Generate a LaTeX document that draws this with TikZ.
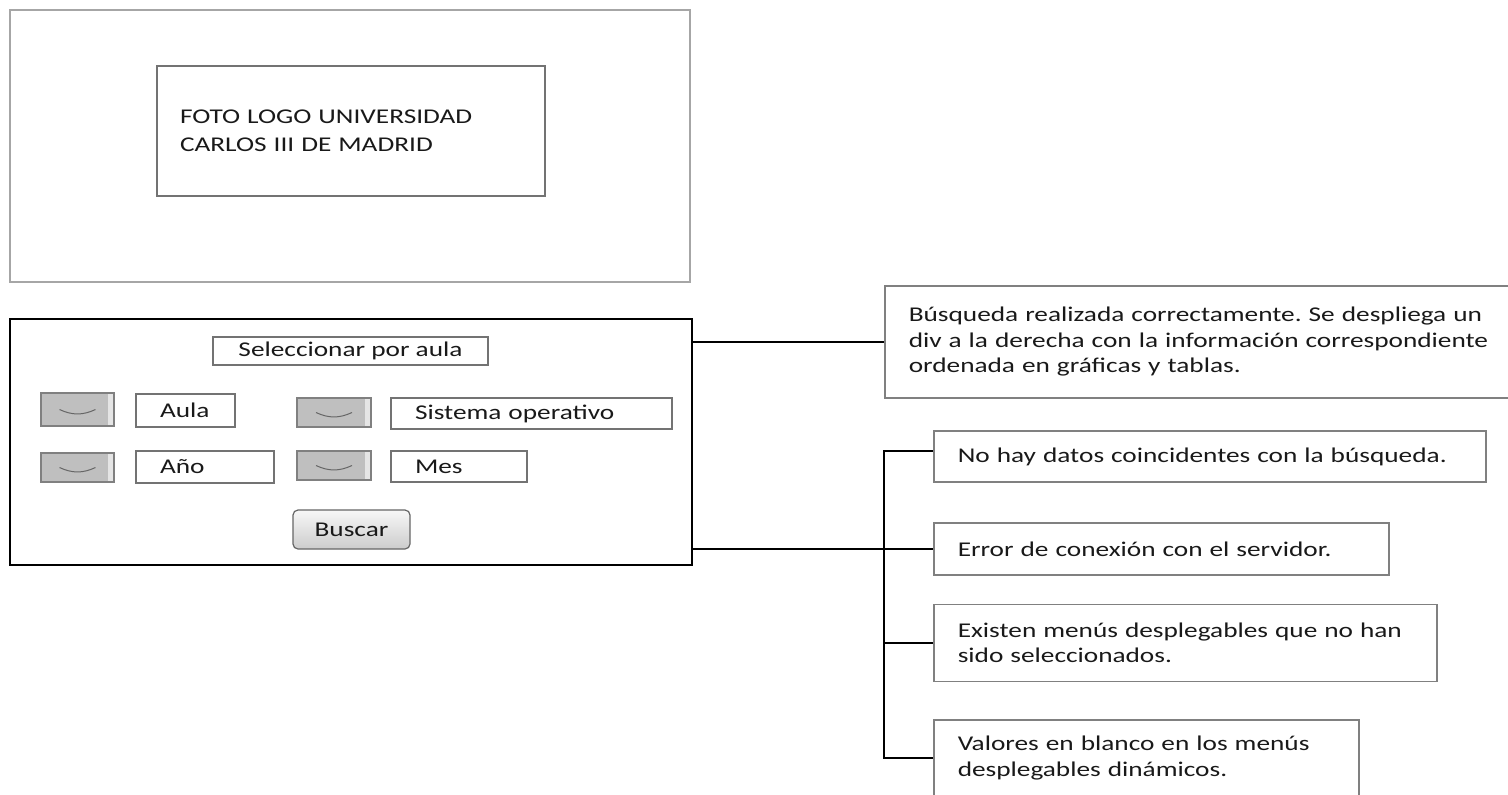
\documentclass[tikz,border=0pt]{standalone}
\usepackage{fontspec}
\setmainfont{Carlito}[FakeStretch=1.3]
\frenchspacing

\begin{document}
\begin{tikzpicture}[x=0.5pt,y=-0.5pt,
	font=\fontsize{10.5}{12.75}\selectfont, text=black!90,
	caja/.style={draw=black!50,line width=0.75pt,inner xsep=12pt,inner ysep=0pt,align=left,anchor=west},
	campo/.style={draw=black!55,line width=0.6pt,inner xsep=12pt,inner ysep=0pt,align=left},
	desp/.style={draw=black!50,fill=black!25,line width=0.6pt,inner sep=0pt,
		path picture={
			\fill[black!10] ([xshift=-3pt]path picture bounding box.north east) rectangle (path picture bounding box.south east);
			\draw[black!60,line width=0.5pt] ([xshift=-9pt]path picture bounding box.center) to[bend right=25] ([xshift=9pt]path picture bounding box.center);
		}},
	boton/.style={draw=black!60,line width=0.6pt,rounded corners=2.5pt,top color=black!3,bottom color=black!20,inner sep=0pt},
	linea/.style={draw,line width=0.8pt},
]
\clip (0,0) rectangle (1508,794);

\node[draw=black!35,line width=0.75pt,minimum width=340pt,minimum height=136pt] (cabecera) at (350,146) {};
\node[draw=black!55,line width=0.75pt,text width=171pt,inner xsep=11.5pt,minimum height=65pt,align=left,font=\fontsize{10.5}{14}\selectfont] (logo) at (351,131) {FOTO LOGO UNIVERSIDAD\\CARLOS III DE MADRID};

\node[draw=black,line width=1.1pt,minimum width=341pt,minimum height=123pt] (form) at (351,442) {};
\node[draw=black!55,line width=0.6pt,minimum width=137.5pt,minimum height=14pt,inner sep=0pt] (selec) at (350.5,351) {Seleccionar por aula};

\node[desp,minimum width=36.5pt,minimum height=16.5pt] (dd1) at (77.5,409.5) {};
\node[campo,text width=25.5pt,minimum height=16.5pt] (aula) at (185.5,410.5) {Aula};
\node[desp,minimum width=37pt,minimum height=14.5pt] (dd2) at (334,412.5) {};
\node[campo,text width=116.5pt,minimum height=15.5pt] (so) at (531.5,413.5) {Sistema operativo};
\node[desp,minimum width=36.5pt,minimum height=14.5pt] (dd3) at (77.5,467.5) {};
\node[campo,text width=45pt,minimum height=16pt] (anio) at (205,467) {Año};
\node[desp,minimum width=37pt,minimum height=14.5pt] (dd4) at (334,465.5) {};
\node[campo,text width=44pt,minimum height=15.5pt] (mes) at (459,466.5) {Mes};

\node[boton,minimum width=58.5pt,minimum height=19.5pt] (buscar) at (351.5,529.5) {Buscar};

\node[caja,text width=306pt,minimum height=56pt] (busq) at (884,342) {Búsqueda realizada correctamente. Se despliega un\\div a la derecha con la información correspondiente\\ordenada en gráficas y tablas.};
\node[caja,text width=252pt,minimum height=25.5pt] (nohay) at (933,456.5) {No hay datos coincidentes con la búsqueda.};
\node[caja,text width=203.5pt,minimum height=26pt] (error) at (933,549) {Error de conexión con el servidor.};
\node[caja,text width=227.5pt,minimum height=38.5pt] (existen) at (933,643) {Existen menús desplegables que no han\\sido seleccionados.};
\node[caja,text width=188.5pt,minimum height=38pt] (valores) at (933,758) {Valores en blanco en los menús\\desplegables dinámicos.};

\coordinate (rama) at (884,451);
\draw[linea] (form.east |- busq.west) -- (busq.west);
\draw[linea] (form.east |- error.west) -- (error.west);
\draw[linea] (valores.west) -| (rama) -- (rama -| nohay.west);
\draw[linea] (rama |- existen.west) -- (existen.west);

\end{tikzpicture}
\end{document}
